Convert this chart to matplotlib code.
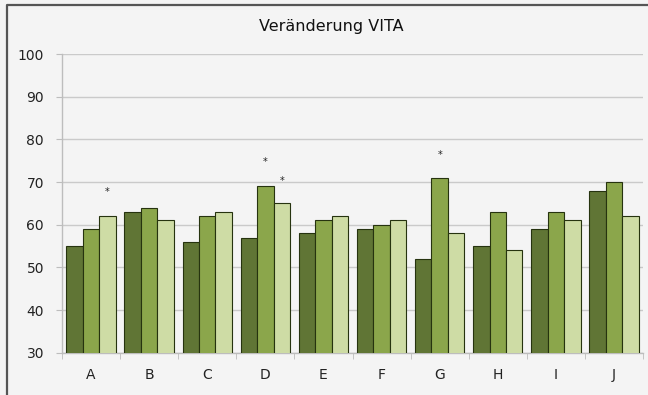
import numpy as np
import matplotlib
matplotlib.use("Agg")
import matplotlib.pyplot as plt
from matplotlib.lines import Line2D

categories = ["A", "B", "C", "D", "E", "F", "G", "H", "I", "J"]
series_1 = [55, 63, 56, 57, 58, 59, 52, 55, 59, 68]
series_2 = [59, 64, 62, 69, 61, 60, 71, 63, 63, 70]
series_3 = [62, 61, 63, 65, 62, 61, 58, 54, 61, 62]

# significance markers: (category index, series index, y value)
stars = [(0, 2, 67.6), (3, 1, 74.8), (3, 2, 70.3), (6, 1, 76.3)]

colors = ["#607535", "#8ba64b", "#cedca5"]
edge = "#26330f"
bg = "#f4f4f4"

fig = plt.figure(figsize=(6.48, 3.95), dpi=100, facecolor=bg)
ax = fig.add_axes([62 / 648, 0.107, 581 / 648, 0.756])
ax.set_facecolor(bg)

x = np.arange(len(categories))
w = 0.283
for i, vals in enumerate([series_1, series_2, series_3]):
    ax.bar(x + (i - 1) * w, vals, width=w, bottom=0, color=colors[i],
           edgecolor=edge, linewidth=0.8, zorder=3)

for ci, si, yv in stars:
    ax.text(x[ci] + (si - 1) * w, yv, "*", ha="center", va="center",
            fontsize=7, color="#222222", zorder=4)

ax.set_xlim(-0.5, len(categories) - 0.5)
ax.set_ylim(30, 100)
ax.set_yticks(range(30, 101, 10))
ax.set_xticks(x)
ax.set_xticklabels(categories)
ax.set_xticks(np.arange(-0.5, len(categories)), minor=True)
ax.tick_params(axis="x", which="major", length=0, pad=11, labelsize=10, colors="#222222")
ax.tick_params(axis="x", which="minor", length=4, color="#bdbdbd", direction="out")
ax.tick_params(axis="y", length=4, color="#bdbdbd", labelsize=10, colors="#222222", pad=9)
ax.yaxis.grid(True, color="#cacaca", linewidth=1, zorder=0)
ax.set_axisbelow(True)

for s in ["top", "right"]:
    ax.spines[s].set_visible(False)
for s in ["left", "bottom"]:
    ax.spines[s].set_color("#bdbdbd")
    ax.spines[s].set_linewidth(1)

fig.text(331 / 648, 1 - 27 / 395, "Veränderung VITA", ha="center", va="center",
         fontsize=11.5, color="#111111")

# frame along the top and left edge
fx, fy = 7 / 648, 1 - 5 / 395
fig.lines.append(Line2D([fx, fx, 1.0], [0.0, fy, fy], transform=fig.transFigure,
                        color="#555555", linewidth=1.6))

fig.savefig("out.png", dpi=100, facecolor=bg)
